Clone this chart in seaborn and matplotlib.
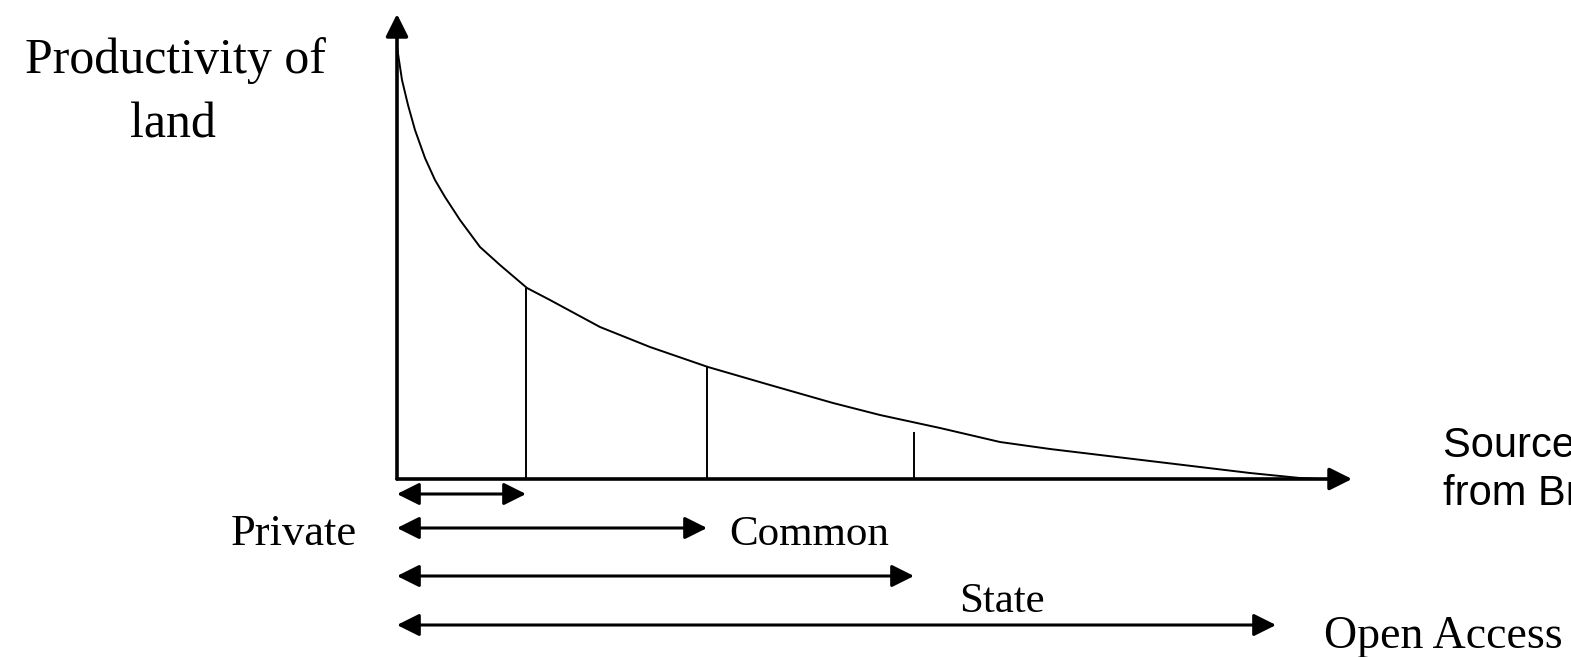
import numpy as np
import pandas as pd
import matplotlib.pyplot as plt
import seaborn as sns

# curva de produtividade (unidades arbitrarias, origem no canto dos eixos)
curve_x = [0.0, 0.05, 0.11, 0.18, 0.28, 0.38, 0.48, 0.63, 0.83, 1.03, 1.30, 1.53, 2.03, 2.53,
           3.11, 3.73, 4.36, 4.83, 5.43, 6.03, 6.53, 7.03, 7.53, 8.03, 8.53, 9.03, 9.23]
curve_y = [4.32, 3.99, 3.74, 3.49, 3.21, 2.99, 2.82, 2.59, 2.32, 2.14, 1.91, 1.79, 1.52, 1.32,
           1.12, 0.94, 0.76, 0.64, 0.51, 0.37, 0.30, 0.24, 0.18, 0.12, 0.06, 0.01, 0.0]

# divisorias verticais
divider_x = [1.29, 3.10, 5.17]
divider_top = [1.91, 1.12, 0.47]

# regimes de propriedade e alcance de cada um
regimes = ["Private", "Common", "State", "Open Access"]
regime_end = [1.29, 3.10, 5.17, 8.79]
regime_row = [-0.15, -0.49, -0.97, -1.46]

df = pd.DataFrame({"x": curve_x, "y": curve_y})

sns.set_style("white")
fig = plt.figure(figsize=(15.71, 6.57), dpi=100)
ax = fig.add_axes([0, 0, 1, 1])

sns.lineplot(data=df, x="x", y="y", color="black", lw=1.4, ax=ax)
ax.vlines(divider_x, 0, divider_top, color="black", lw=1.4)

# eixos com setas
arr = dict(arrowstyle="-|>", color="black", lw=2.6, mutation_scale=34, shrinkA=0, shrinkB=0)
ax.annotate("", xy=(0, 4.65), xytext=(0, 0), arrowprops=arr)
ax.annotate("", xy=(9.55, 0), xytext=(0, 0), arrowprops=arr)

# setas duplas dos regimes
arr2 = dict(arrowstyle="<|-|>", color="black", lw=2.2, mutation_scale=34, shrinkA=0, shrinkB=0)
for end, row in zip(regime_end, regime_row):
    ax.annotate("", xy=(end, row), xytext=(0, row), arrowprops=arr2)

serif = "Liberation Serif"
ax.text(-2.22, 4.06, "Productivity of", family=serif, fontsize=36, ha="center", va="baseline", color="black")
ax.text(-2.24, 3.42, "land", family=serif, fontsize=36, ha="center", va="baseline", color="black")

ax.text(-0.40, -0.66, regimes[0], family=serif, fontsize=32, ha="right", va="baseline", color="black")
ax.text(3.32, -0.66, regimes[1], family=serif, fontsize=31, ha="left", va="baseline", color="black")
ax.text(6.05, -1.33, regimes[2], family=serif, fontsize=31, ha="center", va="baseline", color="black")
ax.text(9.27, -1.69, regimes[3], family=serif, fontsize=33, ha="left", va="baseline", color="black")

ax.text(10.46, 0.22, "Source: adapted", family="Liberation Sans", fontsize=30, ha="left", va="baseline", color="black")
ax.text(10.46, -0.26, "from Bromley (1991)", family="Liberation Sans", fontsize=30, ha="left", va="baseline", color="black")

ax.set_xlim(-3.97, 11.74)
ax.set_ylim(-1.78, 4.79)
ax.axis("off")

plt.savefig("out.png", dpi=100)
